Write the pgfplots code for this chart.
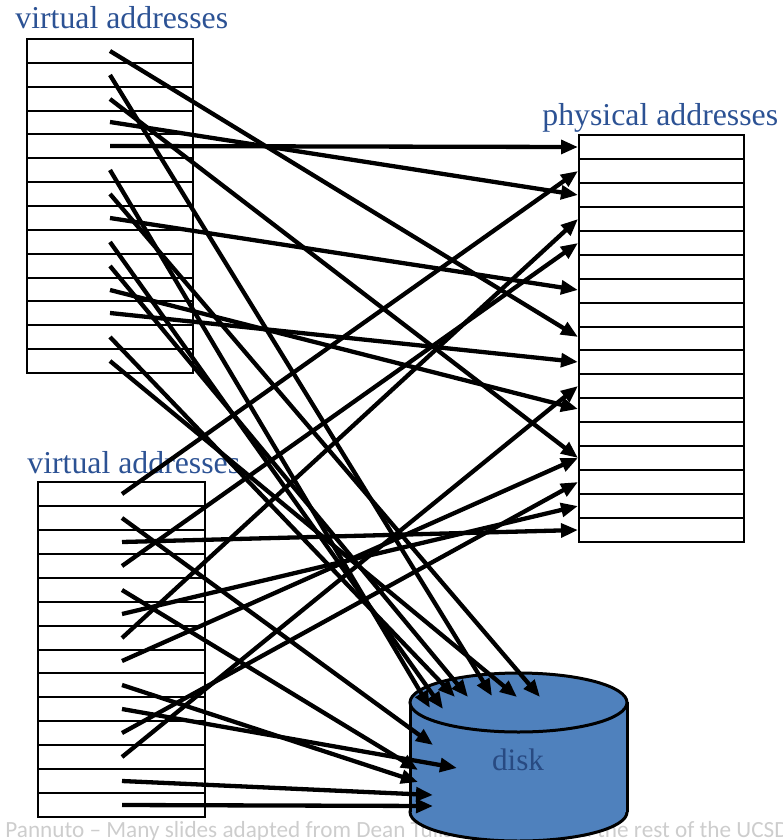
\documentclass[border=0pt]{standalone}
\usepackage{fontspec}
\setmainfont{Liberation Serif}
\newfontfamily\footfont{Carlito}
\usepackage{pgfplots}
\pgfplotsset{compat=1.18}
\usetikzlibrary{arrows.meta}
\definecolor{ttl}{RGB}{44,82,148}
\definecolor{diskblue}{RGB}{79,129,189}
\definecolor{disktext}{RGB}{40,74,130}
\definecolor{foot}{RGB}{205,205,205}
\pgfplotsset{arr/.style={black, line width=2.15bp, mark=none, -{Triangle[length=8.5bp,width=6.8bp]}}}
\begin{document}
\begin{tikzpicture}
\begin{axis}[
  width=391bp, height=420bp, scale only axis,
  xmin=0, xmax=782, ymin=0, ymax=840, y dir=reverse,
  axis lines=none, ticks=none, clip=false,
]
\coordinate (BL) at (axis cs:0,840);
\coordinate (TR) at (axis cs:782,0);
% footer (behind everything)
\node[anchor=base west, text=foot, inner sep=0pt, font=\footfont\fontsize{11.6bp}{13bp}\selectfont] at (axis cs:5,837) {Pannuto – Many slides adapted from Dean Tullsen, Geoff};
\node[anchor=base east, text=foot, inner sep=0pt, font=\footfont\fontsize{11.6bp}{13bp}\selectfont] at (axis cs:789,837) {d the rest of the UCSD};
% boxes
\draw[black, line width=1.2bp, fill=white] (axis cs:27,39) rectangle (axis cs:193,373);
\pgfplotsinvokeforeach{1,...,13}{\draw[black, line width=1bp] (axis cs:27,{39+#1*23.857}) -- (axis cs:193,{39+#1*23.857});}
\draw[black, line width=1.2bp, fill=white] (axis cs:38,482) rectangle (axis cs:205,817);
\pgfplotsinvokeforeach{1,...,13}{\draw[black, line width=1bp] (axis cs:38,{482+#1*23.93}) -- (axis cs:205,{482+#1*23.93});}
\draw[black, line width=1.2bp, fill=white] (axis cs:579,135) rectangle (axis cs:744,542);
\pgfplotsinvokeforeach{1,...,16}{\draw[black, line width=1bp] (axis cs:579,{135+#1*23.94}) -- (axis cs:744,{135+#1*23.94});}
% titles
\node[anchor=base west, text=ttl, inner sep=0pt, font=\fontsize{15.9bp}{19bp}\selectfont] at (axis cs:15,28) {virtual addresses};
\node[anchor=base west, text=ttl, inner sep=0pt, font=\fontsize{15.9bp}{19bp}\selectfont] at (axis cs:542,125) {physical addresses};
\node[anchor=base west, text=ttl, inner sep=0pt, font=\fontsize{15.9bp}{19bp}\selectfont] at (axis cs:27,473) {virtual addresses};
% disk
\draw[black, line width=1.5bp, fill=diskblue] (axis cs:518.5,812) ellipse [x radius=54.25bp, y radius=14.5bp];
\fill[diskblue] (axis cs:410,702) rectangle (axis cs:627,812);
\draw[black, line width=1.5bp] (axis cs:410,702) -- (axis cs:410,812);
\draw[black, line width=1.5bp] (axis cs:627,702) -- (axis cs:627,812);
\draw[black, line width=1.5bp, fill=diskblue] (axis cs:518.5,702.5) ellipse [x radius=54.25bp, y radius=14.75bp];
\node[anchor=base, text=disktext, inner sep=0pt, font=\fontsize{15.6bp}{19bp}\selectfont] at (axis cs:518,770) {disk};
% arrows from upper virtual addresses
\addplot[arr] coordinates {(110,51) (578,337)};
\addplot[arr] coordinates {(110,75) (492,696)};
\addplot[arr] coordinates {(110,99) (578,458)};
\addplot[arr] coordinates {(110,122) (578,195)};
\addplot[arr] coordinates {(110,146) (578,147)};
\addplot[arr] coordinates {(110,170) (430,708)};
\addplot[arr] coordinates {(110,194) (540,697)};
\addplot[arr] coordinates {(110,218) (578,290)};
\addplot[arr] coordinates {(110,242) (443,709)};
\addplot[arr] coordinates {(110,266) (468,697)};
\addplot[arr] coordinates {(110,290) (578,409)};
\addplot[arr] coordinates {(110,313) (578,362)};
\addplot[arr] coordinates {(110,337) (455,697)};
\addplot[arr] coordinates {(110,361) (517,697)};
% arrows from lower virtual addresses
\addplot[arr] coordinates {(122,494) (578,171)};
\addplot[arr] coordinates {(122,518) (433,745)};
\addplot[arr] coordinates {(122,542) (578,530)};
\addplot[arr] coordinates {(122,566) (578,243)};
\addplot[arr] coordinates {(122,590) (418,770)};
\addplot[arr] coordinates {(122,614) (578,506)};
\addplot[arr] coordinates {(122,638) (578,219)};
\addplot[arr] coordinates {(122,661) (578,458)};
\addplot[arr] coordinates {(122,685) (418,782)};
\addplot[arr] coordinates {(122,709) (457,768)};
\addplot[arr] coordinates {(122,733) (578,482)};
\addplot[arr] coordinates {(122,757) (578,386)};
\addplot[arr] coordinates {(122,781) (433,795)};
\addplot[arr] coordinates {(122,805) (433,806)};
\end{axis}
\pgfresetboundingbox
\path[use as bounding box] (BL) rectangle (TR);
\end{tikzpicture}
\end{document}
